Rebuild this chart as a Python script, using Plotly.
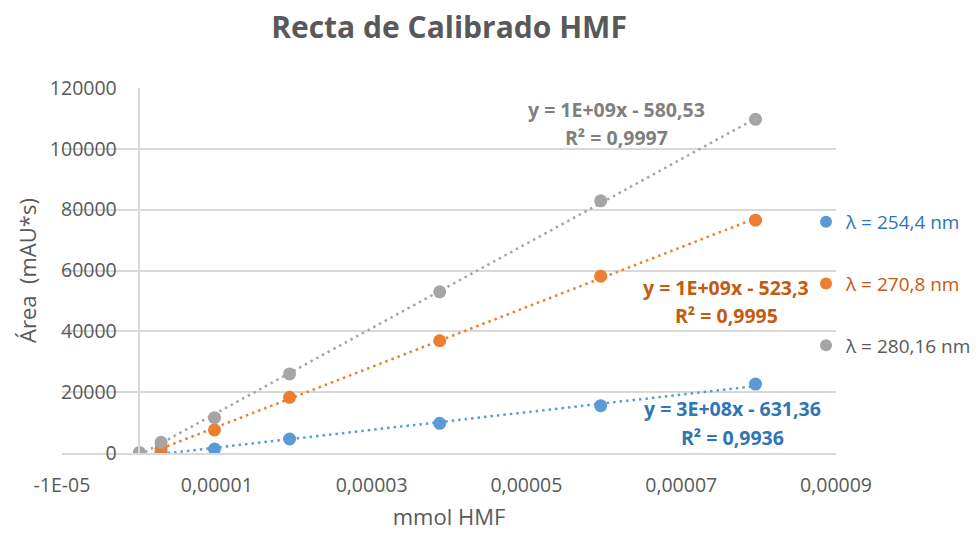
import numpy as np
import plotly.graph_objects as go

# ---------------- data ----------------
series_names = ["λ = 254,4 nm", "λ = 270,8 nm", "λ = 280,16 nm"]
x_blue = [0.0000028, 0.0000097, 0.0000194, 0.0000388, 0.0000596, 0.0000796]
y_blue = [430, 1300, 4600, 9750, 15550, 22670]
x_orange = [0.0000028, 0.0000097, 0.0000194, 0.0000388, 0.0000596, 0.0000796]
y_orange = [1500, 7600, 18300, 36900, 58150, 76550]
x_gray = [0, 0.0000028, 0.0000097, 0.0000194, 0.0000388, 0.0000596, 0.0000796]
y_gray = [200, 3500, 11600, 26000, 53000, 82900, 109700]

eq_texts = ["y = 3E+08x - 631,36", "y = 1E+09x - 523,3", "y = 1E+09x - 580,53"]
r2_texts = ["R² = 0,9936", "R² = 0,9995", "R² = 0,9997"]

x_tickvals = [-0.00001, 0.00001, 0.00003, 0.00005, 0.00007, 0.00009]
x_ticktext = ["-1E-05", "0,00001", "0,00003", "0,00005", "0,00007", "0,00009"]
y_tickvals = [0, 20000, 40000, 60000, 80000, 100000, 120000]
y_ticktext = ["0", "20000", "40000", "60000", "80000", "100000", "120000"]

# ---------------- style ----------------
W, H = 979, 533
ML, MR, MT, MB = 62, 143, 88, 80
PW, PH = W - ML - MR, H - MT - MB
FONT = "Open Sans"
marker_colors = ["#5B9BD5", "#ED7D31", "#A5A5A5"]
legend_text_colors = ["#2E75B6", "#C55A11", "#595959"]
label_colors = ["#2E75B6", "#C55A11", "#7F7F7F"]
TXT = "#595959"
GRID = "#D9D9D9"

X_RANGE = [-0.00001, 0.00009]
Y_RANGE = [0, 120000]

def px_to_paper(px, py):
    return (px - ML) / PW, (H - MB - py) / PH

xs = [x_blue, x_orange, x_gray]
ys = [y_blue, y_orange, y_gray]

fig = go.Figure()

# trendlines (linear fit of the data)
for i in range(3):
    xa = np.array(xs[i]); ya = np.array(ys[i])
    m, b = np.polyfit(xa, ya, 1)
    xl = np.array([xa.min(), xa.max()])
    fig.add_trace(go.Scatter(
        x=xl, y=m * xl + b, mode="lines",
        line=dict(color=marker_colors[i], width=2.5, dash="2.5px,4px"),
        showlegend=False, hoverinfo="skip"))

# markers
for i in range(3):
    fig.add_trace(go.Scatter(
        x=xs[i], y=ys[i], mode="markers",
        marker=dict(color=marker_colors[i], size=13),
        name=f"<span style='color:{legend_text_colors[i]}'>{series_names[i]}</span>",
        legendgroup=f"g{i}"))

# trendline labels
eq_pos = [(732, 408, 437), (726, 287, 315), (616, 109, 137)]
annotations = []
for i in range(3):
    cx, y1, y2 = eq_pos[i]
    for txt, yy in ((eq_texts[i], y1), (r2_texts[i], y2)):
        ax, ay = px_to_paper(cx, yy)
        annotations.append(dict(
            text=f"<b>{txt}</b>", x=ax, y=ay, xref="paper", yref="paper",
            xanchor="center", yanchor="middle", showarrow=False,
            font=dict(family=FONT, size=19.5, color=label_colors[i])))

yaxis_pos = (0 - X_RANGE[0]) / (X_RANGE[1] - X_RANGE[0])
lx, ly = px_to_paper(806, 203)

fig.update_layout(
    width=W, height=H,
    margin=dict(l=ML, r=MR, t=MT, b=MB, autoexpand=False),
    paper_bgcolor="white", plot_bgcolor="white",
    font=dict(family=FONT, color=TXT, size=19.5),
    title=dict(text="<b>Recta de Calibrado HMF</b>", x=0.5, xref="paper",
               xanchor="center", y=1 - 27 / H, yref="container", yanchor="middle",
               font=dict(family=FONT, size=30, color=TXT)),
    xaxis=dict(range=X_RANGE, tickvals=x_tickvals, ticktext=x_ticktext,
               showgrid=False, zeroline=False, showline=True, linecolor=GRID,
               linewidth=1.5, ticks="", ticklabelstandoff=14,
               tickfont=dict(family=FONT, size=19.5, color=TXT),
               title=dict(text="mmol HMF", standoff=12,
                          font=dict(family=FONT, size=22, color=TXT)),
               automargin=False),
    yaxis=dict(range=Y_RANGE, tickvals=y_tickvals, ticktext=y_ticktext,
               showgrid=True, gridcolor=GRID, gridwidth=1.5,
               zeroline=False, showline=True, linecolor=GRID, linewidth=1.5,
               anchor="free", position=yaxis_pos, ticks="",
               ticklabelstandoff=18,
               tickfont=dict(family=FONT, size=19.5, color=TXT),
               title=dict(text="Área\u00a0\u00a0(mAU*s)", standoff=6,
                          font=dict(family=FONT, size=22, color=TXT)),
               automargin=False),
    legend=dict(x=lx, y=ly, xanchor="left", yanchor="top",
                tracegroupgap=34, bgcolor="rgba(0,0,0,0)",
                font=dict(family=FONT, size=19, color=TXT),
                itemsizing="constant"),
    annotations=annotations,
    showlegend=True,
)

fig.write_html("out.html")
